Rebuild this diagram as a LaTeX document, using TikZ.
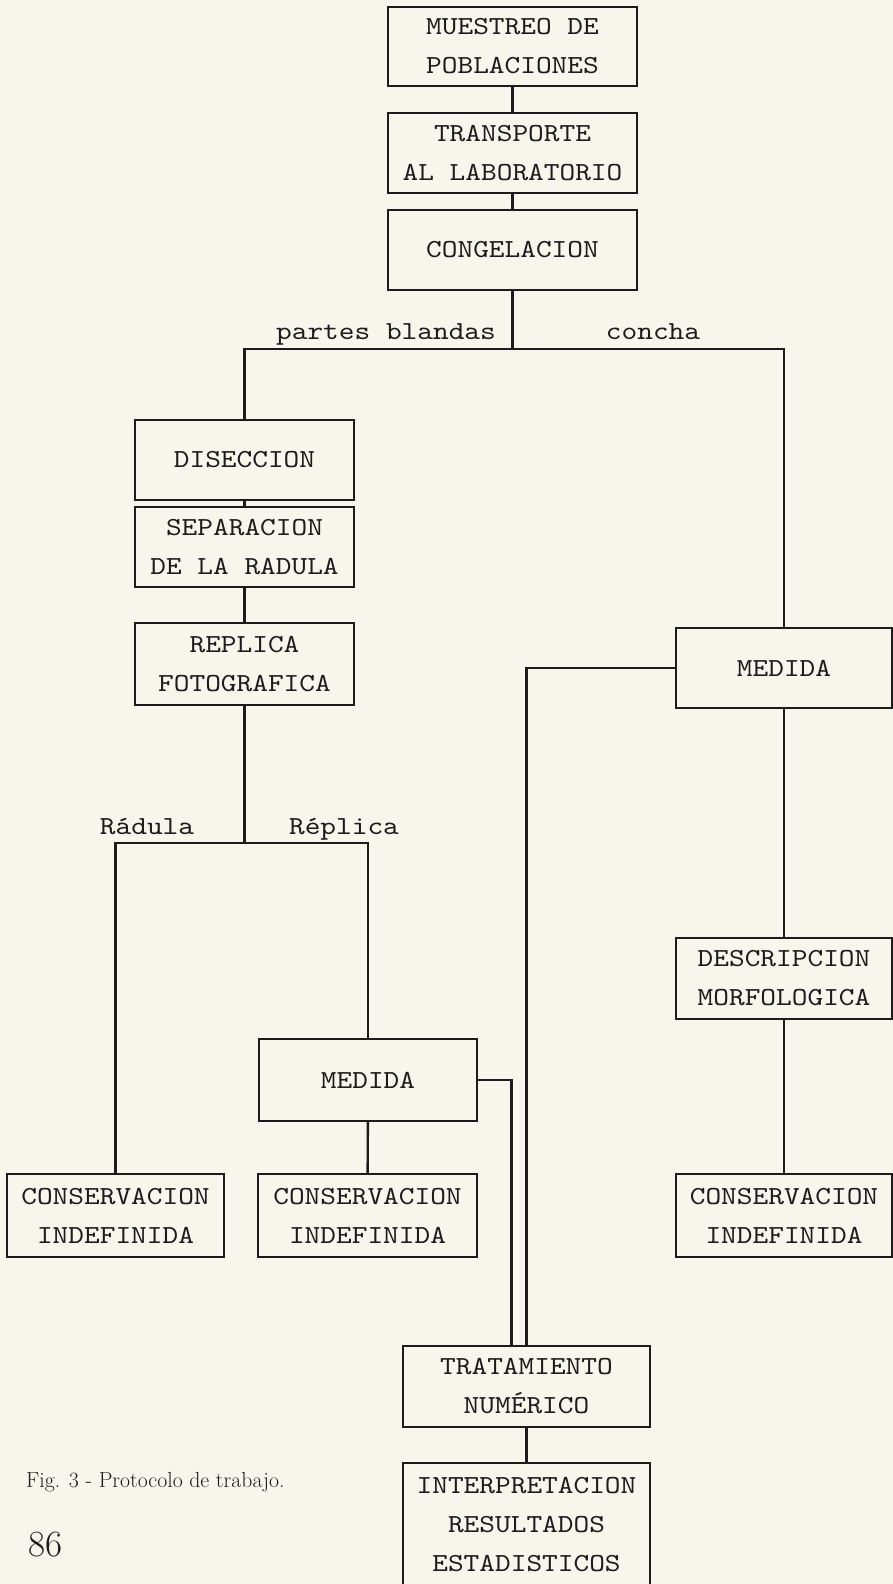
\documentclass[tikz,border=0pt]{standalone}
\usepackage{fontspec}
\newfontfamily\typfont[FakeStretch=1.15]{lmmono10-regular.otf}
\definecolor{papel}{RGB}{246,246,236}
\definecolor{tinta}{RGB}{28,28,28}
\begin{document}
\begin{tikzpicture}[x=1pt,y=-1pt,line width=2.4pt,draw=tinta,text=tinta,
 box/.style={draw,inner sep=0pt,align=center,font=\typfont\fontsize{26pt}{39pt}\selectfont},
 lbl/.style={inner sep=0pt,anchor=base,font=\typfont\fontsize{26pt}{39pt}\selectfont}]
\path[fill=papel,use as bounding box](0,0) rectangle (893,1584);
\node[box,minimum width=249pt,minimum height=79pt] (mue) at(512.5,46.5){MUESTREO DE\\POBLACIONES};
\node[box,minimum width=249pt,minimum height=80pt] (trans) at(512.5,153){TRANSPORTE\\AL LABORATORIO};
\node[box,minimum width=249pt,minimum height=80pt] (cong) at(512.5,250){CONGELACION};
\node[box,minimum width=219pt,minimum height=80pt] (dis) at(244.5,460){DISECCION};
\node[box,minimum width=219pt,minimum height=80pt] (sep) at(244.5,547){SEPARACION\\DE LA RADULA};
\node[box,minimum width=219pt,minimum height=82pt] (rep) at(244.5,664){REPLICA\\FOTOGRAFICA};
\node[box,minimum width=217pt,minimum height=83pt] (con1) at(115.5,1215.5){CONSERVACION\\INDEFINIDA};
\node[box,minimum width=218pt,minimum height=82pt] (med1) at(368,1080){MEDIDA};
\node[box,minimum width=219pt,minimum height=83pt] (con2) at(367.5,1215.5){CONSERVACION\\INDEFINIDA};
\node[box,minimum width=216pt,minimum height=80pt] (med2) at(784,668){MEDIDA};
\node[box,minimum width=216pt,minimum height=81pt] (desc) at(784,978.5){DESCRIPCION\\MORFOLOGICA};
\node[box,minimum width=216pt,minimum height=83pt] (con3) at(784,1215.5){CONSERVACION\\INDEFINIDA};
\node[box,minimum width=247pt,minimum height=81pt] (trat) at(526.5,1386.5){TRATAMIENTO\\NUMÉRICO};
\node[box,minimum width=247pt,minimum height=123pt] (interp) at(526.5,1524.5){INTERPRETACION\\RESULTADOS\\ESTADISTICOS};
\coordinate (j1) at(512.5,349);
\coordinate (j2) at(244.5,843);
\draw (mue)--(trans);
\draw (trans)--(cong);
\draw (cong)--(j1);
\draw (dis.north)--(dis.north|-j1)--(med2.north|-j1)--(med2.north);
\node[lbl] (lpb) at(386,339){partes blandas};
\node[lbl] (lco) at(653,339){concha};
\draw (dis)--(sep);
\draw (sep)--(rep);
\draw (rep)--(j2);
\draw (con1.north)--(con1.north|-j2)--(med1.north|-j2)--(med1.north);
\node[lbl] (lra) at(147,834){Rádula};
\node[lbl] (lre) at(344,834){Réplica};
\draw (med1)--(con2);
\draw (med1.east)-|([xshift=-15pt]trat.north);
\draw (med2.west)-|(trat.north);
\draw (med2)--(desc);
\draw (desc)--(con3);
\draw (trat)--(interp);
\node[inner sep=0pt,anchor=base west,font=\fontsize{21.8pt}{26pt}\selectfont] (cap) at(25,1487){Fig. 3 - Protocolo de trabajo.};
\node[inner sep=0pt,anchor=base west,font=\fontsize{37pt}{44pt}\selectfont] (pag) at(27,1556){86};
\end{tikzpicture}
\end{document}
